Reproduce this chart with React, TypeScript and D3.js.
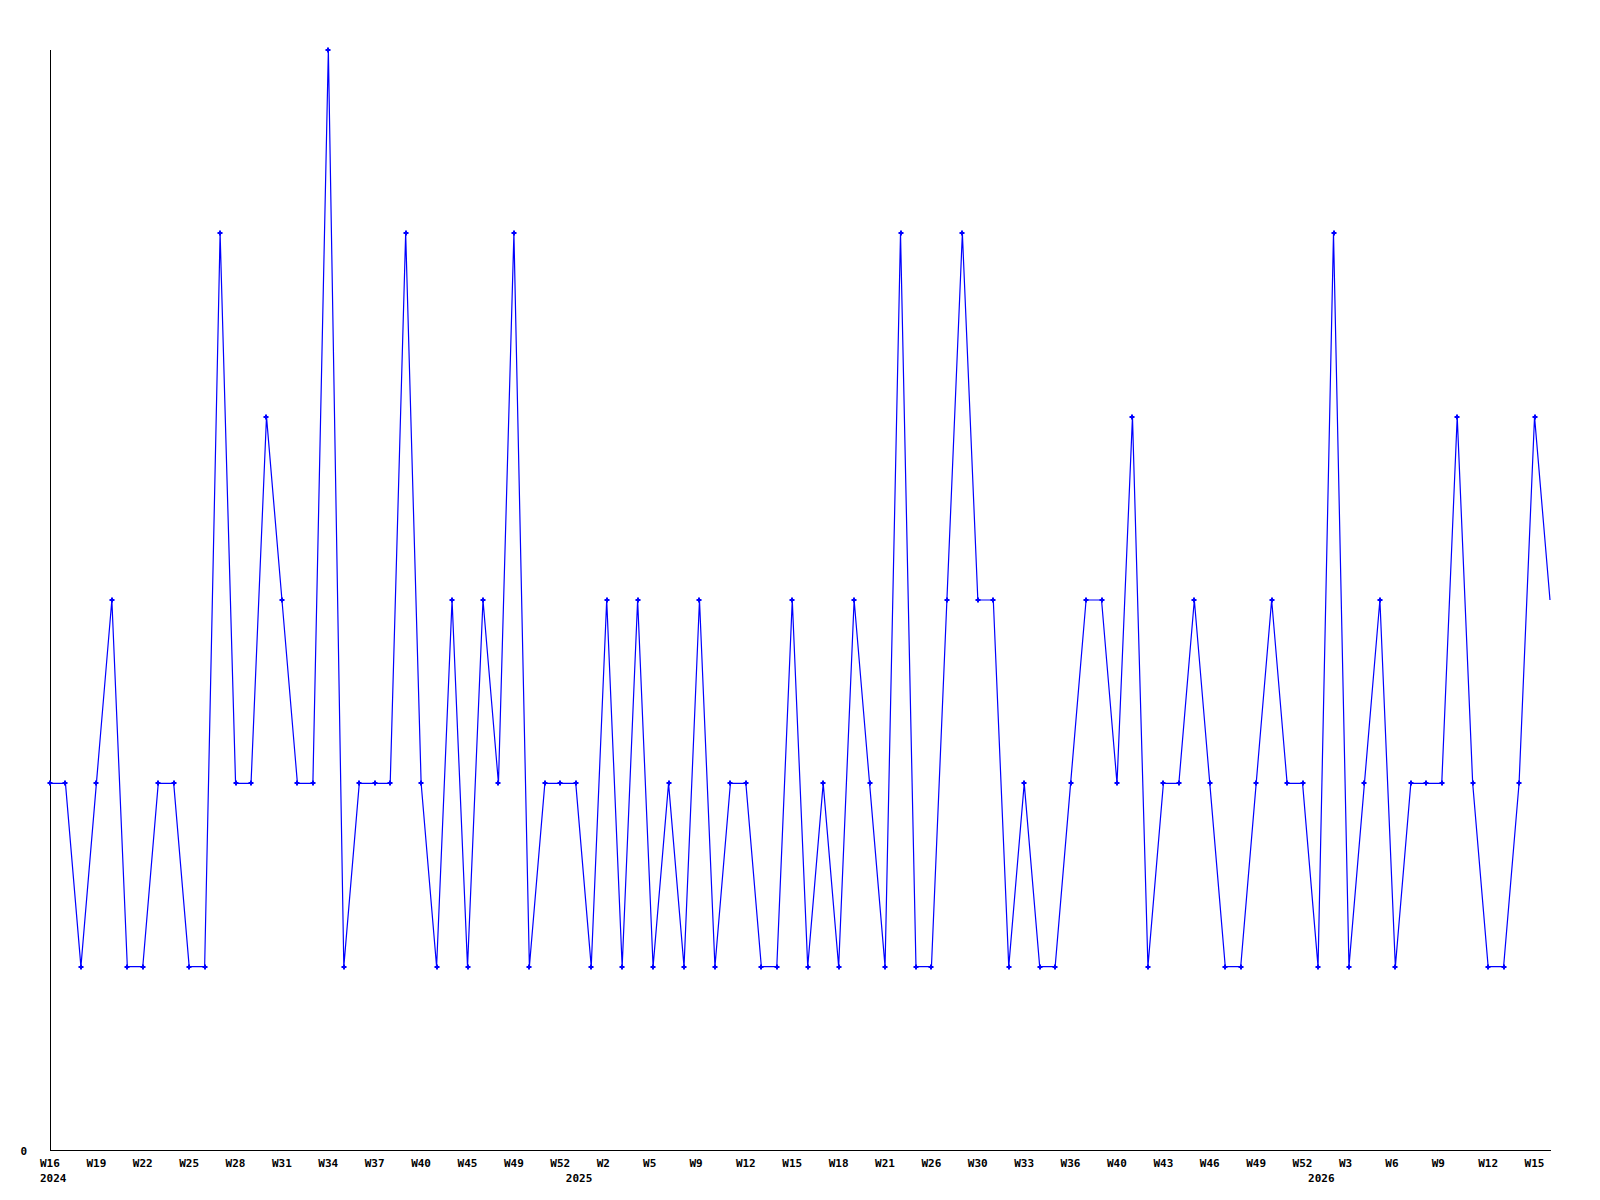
import React from "react";
import * as d3 from "d3";

const weekLabels: string[] = [
  "W16","W17","W18","W19","W20","W21","W22","W23","W24","W25",
  "W26","W27","W28","W29","W30","W31","W32","W33","W34","W35",
  "W36","W37","W38","W39","W40","W42","W44","W45","W47","W48",
  "W49","W50","W51","W52","W1","W1","W2","W3","W4","W5",
  "W7","W8","W9","W10","W11","W12","W13","W14","W15","W16",
  "W17","W18","W19","W20","W21","W23","W25","W26","W28","W29",
  "W30","W31","W32","W33","W34","W35","W36","W37","W39","W40",
  "W41","W42","W43","W44","W45","W46","W47","W48","W49","W50",
  "W51","W52","W1","W2","W3","W4","W5","W6","W7","W8",
  "W9","W10","W11","W12","W13","W14","W15","W16",
];

const values: number[] = [
  2,2,1,2,3,1,1,2,2,1,
  1,5,2,2,4,3,2,2,6,1,
  2,2,2,5,2,1,3,1,3,2,
  5,1,2,2,2,1,3,1,3,1,
  2,1,3,1,2,2,1,1,3,1,
  2,1,3,2,1,5,1,1,3,5,
  3,3,1,2,1,1,2,3,3,2,
  4,1,2,2,3,2,1,1,2,3,
  2,2,1,5,1,2,3,1,2,2,
  2,4,2,1,1,2,4,3,
];

const yearIndices: number[] = [0, 34, 82];
const yearTexts: string[] = ["2024", "2025", "2026"];
const yTickValues: number[] = [0];
const tickEvery = 3;

const FONT = "'DejaVu Sans Mono', monospace";

export default function App() {
  const left = 50;
  const right = 1550;
  const top = 50;
  const bottom = 1150;
  const n = values.length;

  const x = d3.scaleLinear().domain([0, n - 1]).range([left, right]);
  const y = d3
    .scaleLinear()
    .domain([0, d3.max(values) as number])
    .range([bottom, top]);

  const line = d3
    .line<number>()
    .x((_, i) => x(i))
    .y((d) => y(d));

  const tickIdx = weekLabels.map((_, i) => i).filter((i) => i % tickEvery === 0);

  return (
    <svg
      width={1600}
      height={1200}
      style={{ position: "absolute", left: 0, top: 0, background: "#fff" }}
    >
      <rect x={0} y={0} width={1600} height={1200} fill="#fff" />
      {/* axes */}
      <line x1={left + 0.5} x2={left + 0.5} y1={top} y2={bottom + 1} stroke="#000" strokeWidth={1} shapeRendering="crispEdges" />
      <line x1={left} x2={right + 1} y1={bottom + 0.5} y2={bottom + 0.5} stroke="#000" strokeWidth={1} shapeRendering="crispEdges" />
      {/* y tick labels */}
      {yTickValues.map((v) => (
        <text key={v} x={27} y={y(v) + 5} textAnchor="end" fontFamily={FONT} fontWeight="bold" fontSize={11} fill="#000">
          {v}
        </text>
      ))}
      {/* x tick labels */}
      {tickIdx.map((i) => (
        <text key={i} x={x(i) - 10} y={1167} fontFamily={FONT} fontWeight="bold" fontSize={11} fill="#000">
          {weekLabels[i]}
        </text>
      ))}
      {yearIndices.map((idx, k) => (
        <text key={"y" + k} x={x(idx) - 10} y={1182} fontFamily={FONT} fontWeight="bold" fontSize={11} fill="#000">
          {yearTexts[k]}
        </text>
      ))}
      {/* series */}
      <path d={line(values) || ""} fill="none" stroke="#0000ff" strokeWidth={1.2} />
      {values.slice(0, n - 1).map((v, i) => (
        <g key={i} transform={`translate(${Math.round(x(i))},${Math.round(y(v))})`} fill="#0000ff">
          <rect x={-2.5} y={-1} width={5} height={2} />
          <rect x={-1} y={-2.5} width={2} height={5} />
        </g>
      ))}
    </svg>
  );
}
